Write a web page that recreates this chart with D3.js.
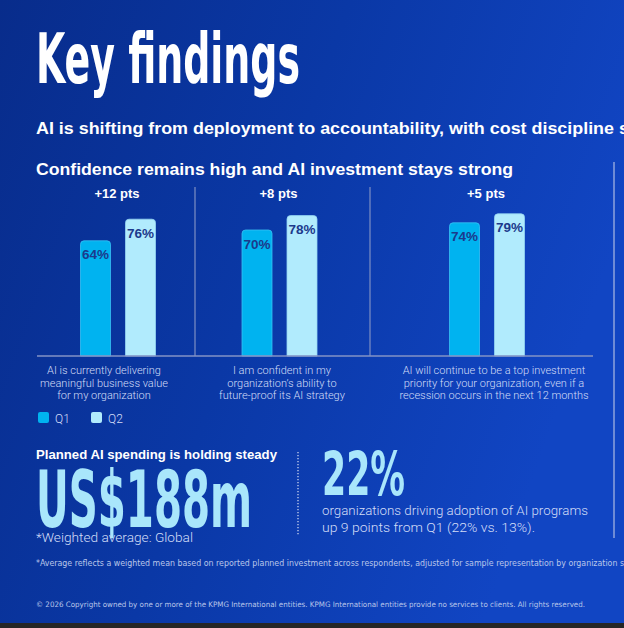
<!DOCTYPE html>
<html>
<head>
<meta charset="utf-8">
<script src="https://cdn.jsdelivr.net/npm/d3@7/dist/d3.min.js"></script>
<style>
  html, body { margin: 0; padding: 0; background: #0a35a0; overflow: hidden; }
  svg { display: block; }
</style>
</head>
<body>
<svg id="chart" width="624" height="628"></svg>
<script>
// ---------------- DATA ----------------
const title = "Key findings";
const subtitle = "AI is shifting from deployment to accountability, with cost discipline";
const subtitleRest = " shaping AI decisions";
const sectionTitle = "Confidence remains high and AI investment stays strong";
const categories = ["Business value", "Future-proof strategy", "Recession-proof investment"];
const categoryLines = [
  ["AI is currently delivering", "meaningful business value", "for my organization"],
  ["I am confident in my", "organization\u2019s ability to", "future-proof its AI strategy"],
  ["AI will continue to be a top investment", "priority for your organization, even if a", "recession occurs in the next 12 months"]
];
const seriesNames = ["Q1", "Q2"];
const q1Values = [64, 70, 74];
const q2Values = [76, 78, 79];
const spendTitle = "Planned AI spending is holding steady";
const spendValue = "US$188m";
const spendNote = "*Weighted average: Global";
const adoptionValue = 22;
const adoptionPrev = 13;
const adoptionLines = ["organizations driving adoption of AI programs", "up 9 points from Q1 (22% vs. 13%)."];
const footnote = "*Average reflects a weighted mean based on reported planned investment across respondents, adjusted for sample representation by organization s";
const footnoteRest = "ize";
const copyright = "\u00a9 2026 Copyright owned by one or more of the KPMG International entities. KPMG International entities provide no services to clients. All rights reserved.";

// ---------------- SETUP ----------------
const W = 624, H = 628;
const svg = d3.select("#chart");
const defs = svg.append("defs");
const grad = defs.append("linearGradient").attr("id", "bg")
  .attr("x1", 0).attr("y1", 0).attr("x2", 1).attr("y2", 0.35);
grad.append("stop").attr("offset", 0).attr("stop-color", "#082c8b");
grad.append("stop").attr("offset", 0.5).attr("stop-color", "#0a38a6");
grad.append("stop").attr("offset", 1).attr("stop-color", "#1145c3");
svg.append("rect").attr("width", W).attr("height", H).attr("fill", "url(#bg)");
svg.append("rect").attr("x", 0).attr("y", 623).attr("width", W).attr("height", 5).attr("fill", "#262626");

const NARROW = "'Liberation Sans Narrow', 'DejaVu Sans Condensed', 'Arial Narrow', sans-serif";
const SANS = "'Liberation Sans', Arial, sans-serif";
const LIGHT = "Roboto, 'Open Sans', sans-serif";
const lightText = "#d3ddf7";

function measure(str, attrs) {
  const t = svg.append("text").text(str);
  Object.entries(attrs).forEach(([k, v]) => t.attr(k, v));
  const w = t.node().getComputedTextLength();
  t.remove();
  return w;
}
// text whose visible part should span `width`, continuing with `rest` beyond
function fitText(x, y, visible, rest, width, attrs) {
  const full = visible + rest;
  const wv = measure(visible, attrs), wf = measure(full, attrs);
  const t = svg.append("text").attr("x", x).attr("y", y).text(full)
    .attr("textLength", width * wf / wv).attr("lengthAdjust", "spacingAndGlyphs");
  Object.entries(attrs).forEach(([k, v]) => t.attr(k, v));
  return t;
}

// ---------------- HEADINGS ----------------
fitText(36, 83, title, "", 264, { "font-family": NARROW, "font-weight": 700, "font-size": 70, fill: "#ffffff" });
fitText(36, 134, subtitle, subtitleRest, 578, { "font-family": SANS, "font-weight": 700, "font-size": 16, fill: "#ffffff" });
fitText(36, 175, sectionTitle, "", 477, { "font-family": SANS, "font-weight": 700, "font-size": 16, fill: "#ffffff" });

// right separator
svg.append("line").attr("x1", 614).attr("x2", 614).attr("y1", 162).attr("y2", 538)
  .attr("stroke", "#8ea3dc").attr("stroke-width", 1.5);

// ---------------- BAR CHART ----------------
const baseY = 356;
const y = d3.scaleLinear().domain([0, 100]).range([baseY, 176]);
const xGroup = d3.scaleOrdinal().domain(categories).range([118, 279.5, 487]);
const xSub = d3.scaleBand().domain(seriesNames).range([-37.5, 37.5]).paddingInner(1 / 3);
const color = d3.scaleOrdinal().domain(seriesNames).range(["#00b3f0", "#b1ebfd"]);
const strokeC = d3.scaleOrdinal().domain(seriesNames).range(["#39c2f5", "#95d6f3"]);
const labelCenters = [104, 282, 494];
const dividers = [195, 370];

const chart = svg.append("g");
// dividers
chart.selectAll("line.div").data(dividers).join("line")
  .attr("x1", d => d).attr("x2", d => d).attr("y1", 187).attr("y2", baseY)
  .attr("stroke", "#7e8fc4").attr("stroke-width", 1.2);

const barData = [];
categories.forEach((c, i) => {
  barData.push({ cat: c, s: "Q1", v: q1Values[i] });
  barData.push({ cat: c, s: "Q2", v: q2Values[i] });
});

function topRounded(x, yTop, w, yBot, r) {
  return `M${x},${yBot} L${x},${yTop + r} Q${x},${yTop} ${x + r},${yTop} L${x + w - r},${yTop} Q${x + w},${yTop} ${x + w},${yTop + r} L${x + w},${yBot} Z`;
}

chart.selectAll("path.bar").data(barData).join("path")
  .attr("class", "bar")
  .attr("d", d => topRounded(xGroup(d.cat) + xSub(d.s), y(d.v), xSub.bandwidth(), baseY, 3.5))
  .attr("fill", d => color(d.s))
  .attr("stroke", d => strokeC(d.s)).attr("stroke-width", 0.8);

chart.selectAll("text.val").data(barData).join("text")
  .attr("x", d => xGroup(d.cat) + xSub(d.s) + xSub.bandwidth() / 2)
  .attr("y", d => y(d.v) + 18.5)
  .attr("text-anchor", "middle")
  .attr("font-family", SANS).attr("font-weight", 700).attr("font-size", 13.5)
  .attr("fill", "#1c3a8c")
  .text(d => d.v + "%");

// delta labels
chart.selectAll("text.delta").data(categories).join("text")
  .attr("x", c => xGroup(c) - 1)
  .attr("y", 198)
  .attr("text-anchor", "middle")
  .attr("font-family", SANS).attr("font-weight", 700).attr("font-size", 13)
  .attr("fill", "#ffffff")
  .text((c, i) => "+" + (q2Values[i] - q1Values[i]) + " pts");

// baseline
chart.append("line").attr("x1", 37).attr("x2", 593).attr("y1", baseY).attr("y2", baseY)
  .attr("stroke", "#8393c6").attr("stroke-width", 1.5);

// category labels
const catG = chart.selectAll("text.cat").data(categories).join("text")
  .attr("text-anchor", "middle")
  .attr("font-family", LIGHT).attr("font-weight", 300).attr("font-size", 11)
  .attr("fill", lightText);
catG.selectAll("tspan").data((c, i) => categoryLines[i].map(l => ({ l, i }))).join("tspan")
  .attr("x", d => labelCenters[d.i])
  .attr("y", (d, j) => 374 + j * 12.7)
  .text(d => d.l);

// legend
const leg = chart.selectAll("g.leg").data(seriesNames).join("g")
  .attr("transform", (d, i) => `translate(${38 + i * 53},412)`);
leg.append("rect").attr("width", 11).attr("height", 11).attr("rx", 2)
  .attr("fill", d => color(d));
leg.append("text").attr("x", 17).attr("y", 10.5)
  .attr("font-family", LIGHT).attr("font-weight", 300).attr("font-size", 12)
  .attr("fill", lightText).text(d => d);

// ---------------- SPENDING ----------------
fitText(36, 459, spendTitle, "", 241, { "font-family": SANS, "font-weight": 700, "font-size": 12.5, fill: "#ffffff" });
fitText(36, 527, spendValue, "", 216, { "font-family": NARROW, "font-weight": 700, "font-size": 79, fill: "#a9e6fb" });
fitText(36, 542, spendNote, "", 157, { "font-family": LIGHT, "font-weight": 300, "font-size": 12, fill: lightText });

svg.append("line").attr("x1", 298).attr("x2", 298).attr("y1", 452).attr("y2", 536)
  .attr("stroke", "#c9d2ee").attr("stroke-width", 1.3).attr("stroke-dasharray", "1.3,1.7");

// ---------------- ADOPTION ----------------
fitText(322, 495, adoptionValue + "%", "", 83, { "font-family": NARROW, "font-weight": 700, "font-size": 61, fill: "#a9e6fb" });
fitText(322, 515, adoptionLines[0], "", 266, { "font-family": LIGHT, "font-weight": 300, "font-size": 12, fill: lightText });
fitText(322, 532, adoptionLines[1], "", 213, { "font-family": LIGHT, "font-weight": 300, "font-size": 12, fill: lightText });

// ---------------- FOOTNOTES ----------------
fitText(36, 566, footnote, footnoteRest, 588, { "font-family": NARROW, "font-size": 8.5, fill: "#b9c6ea" });
fitText(36, 606.5, copyright, "", 549, { "font-family": NARROW, "font-size": 7.5, fill: "#b9c6ea" });
</script>
</body>
</html>
